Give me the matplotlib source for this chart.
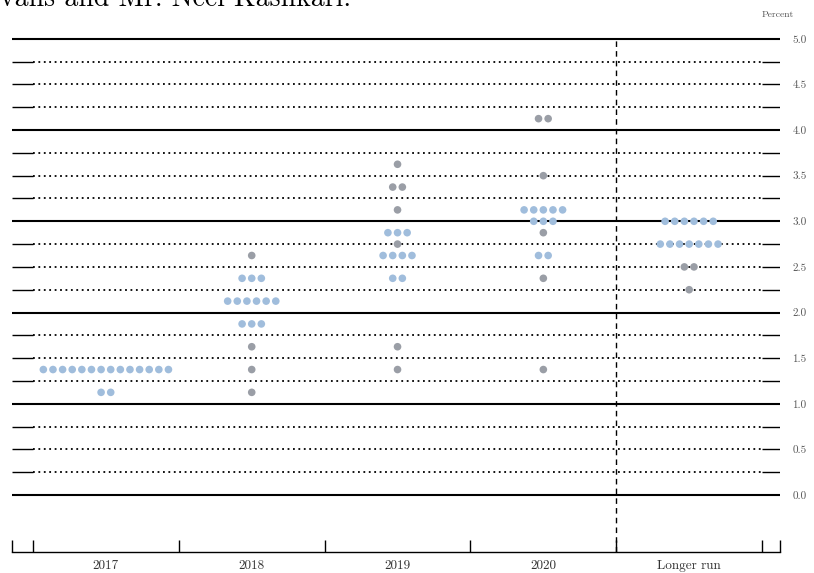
import numpy as np
import matplotlib
matplotlib.use("Agg")
import matplotlib.pyplot as plt

# Midpoint of target range, number of participants, per column
columns = ["2017", "2018", "2019", "2020", "Longer run"]

rates_2017 = [1.375, 1.125]
counts_2017 = [14, 2]

rates_2018 = [2.625, 2.375, 2.125, 1.875, 1.625, 1.375, 1.125]
counts_2018 = [1, 3, 6, 3, 1, 1, 1]

rates_2019 = [3.625, 3.375, 3.125, 2.875, 2.75, 2.625, 2.375, 1.625, 1.375]
counts_2019 = [1, 2, 1, 3, 1, 4, 2, 1, 1]

rates_2020 = [4.125, 3.5, 3.125, 3.0, 2.875, 2.625, 2.375, 1.375]
counts_2020 = [2, 1, 5, 3, 1, 2, 1, 1]

rates_lr = [3.0, 2.75, 2.5, 2.25]
counts_lr = [6, 7, 2, 1]

# rows that come out grey in the source picture
grey_2018 = [2.625, 1.625, 1.375, 1.125]
grey_2019 = [3.625, 3.375, 3.125, 2.75, 1.625, 1.375]
grey_2020 = [4.125, 3.5, 2.875, 2.375, 1.375]
grey_lr = [2.5, 2.25]

all_rates = [rates_2017, rates_2018, rates_2019, rates_2020, rates_lr]
all_counts = [counts_2017, counts_2018, counts_2019, counts_2020, counts_lr]
all_grey = [[], grey_2018, grey_2019, grey_2020, grey_lr]

ytick_vals = np.arange(0, 5.01, 0.5)
grid_vals = np.arange(0, 5.01, 0.25)

blue = "#a0bddc"
grey = "#9a9ea6"
serif = ["cmr10", "DejaVu Serif"]

fig = plt.figure(figsize=(8.14, 5.73), dpi=100)
ax = fig.add_axes([12/814, 21/573, 768/814, 515/573])
xlo, xhi = -0.644, 4.623
ax.set_xlim(xlo, xhi)
ax.set_ylim(-0.625, 5.02)

# horizontal grid: solid at whole percents, dotted between
for v in grid_vals:
    if abs(v - round(v)) < 1e-9:
        ax.hlines(v, xlo, xhi, color="black", lw=1.5, zorder=1)
    else:
        ax.hlines(v, -0.5, 4.5, color="black", lw=1.3, linestyles=(0, (1, 2.0)), zorder=1)
        ax.hlines(v, xlo, -0.5, color="black", lw=1.0, zorder=1)
        ax.hlines(v, 4.5, xhi, color="black", lw=1.0, zorder=1)

ax.vlines(3.5, -0.625, 5.0, color="black", lw=1.0, linestyles=(0, (4, 3)), zorder=1)

# dots
step = 0.066
for i, (rates, counts, greys) in enumerate(zip(all_rates, all_counts, all_grey)):
    for r, n in zip(rates, counts):
        xs = i + (np.arange(n) - (n - 1) / 2) * step
        c = grey if r in greys else blue
        ax.scatter(xs, [r] * n, s=30, color=c, edgecolors="none", zorder=3)

# axes decoration
for s in ["top", "left", "right"]:
    ax.spines[s].set_visible(False)
ax.spines["bottom"].set_linewidth(1.0)

ax.set_xticks([xlo, -0.5, 0.5, 1.5, 2.5, 3.5, 4.5, xhi])
ax.set_xticklabels([])
ax.tick_params(axis="x", which="major", direction="in", length=9, width=1.0)
ax.set_xticks(range(len(columns)), minor=True)
ax.set_xticklabels(columns, minor=True, fontfamily=serif, fontsize=9.5, color="#333333")
ax.tick_params(axis="x", which="minor", length=0, pad=6)

ax.yaxis.tick_right()
ax.set_yticks(ytick_vals)
ax.set_yticklabels([f"{v:.1f}" for v in ytick_vals], fontfamily=serif, fontsize=8, color="#555555")
ax.tick_params(axis="y", length=0, pad=9)

fig.text(778/814, 1 - 15/573, "Percent", fontfamily=serif, fontsize=7, color="#555555", ha="center", va="center")
fig.text(0.0, 1 + 1/573, "vans and Mr. Neel Kashkari.", fontfamily=serif, fontsize=20, color="black", ha="left", va="center")

fig.savefig("out.png", dpi=100)
